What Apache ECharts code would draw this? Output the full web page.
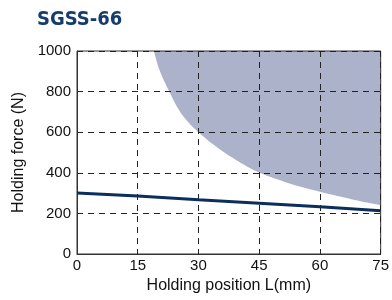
<!DOCTYPE html>
<html>
<head>
<meta charset="utf-8">
<script src="https://cdn.jsdelivr.net/npm/echarts@6/dist/echarts.min.js"></script>
<style>
  html, body { margin: 0; padding: 0; background: #fff; }
  #main { width: 392px; height: 300px; }
</style>
</head>
<body>
<div id="main"></div>
<script>
// holding force curve (L mm, N)
var forceL = [0, 15, 30, 45, 60, 75];
var forceN = [300, 286, 267, 250, 233, 213];
// allowable region boundary (shaded above)
var limitL = [19, 20.5, 22.8, 25, 27, 30, 35, 40, 45, 50, 55, 60, 65, 70, 75];
var limitN = [1000, 900, 800, 715, 660, 600, 520, 455, 402, 365, 332, 307, 283, 260, 241];

var chart = echarts.init(document.getElementById('main'));

function pairs(xs, ys) {
  var out = [];
  for (var i = 0; i < xs.length; i++) out.push([xs[i], ys[i]]);
  return out;
}

var option = {
  backgroundColor: '#ffffff',
  animation: false,
  title: {
    text: 'SGSS-66',
    left: 32,
    top: 5,
    textStyle: { fontFamily: 'DejaVu Sans Condensed', fontWeight: 'bold', fontSize: 20, color: '#143d6e' }
  },
  grid: { left: 77, top: 51, right: 9, bottom: 46, show: true, borderColor: '#333', borderWidth: 1 },
  xAxis: [{
    type: 'value',
    min: 0, max: 75, interval: 15,
    name: 'Holding position L(mm)',
    nameLocation: 'middle',
    nameGap: 22,
    nameTextStyle: { fontFamily: 'Liberation Sans', fontSize: 16, color: '#111' },
    axisLine: { show: true, lineStyle: { color: '#333', width: 1 } },
    axisTick: { show: false },
    axisLabel: { fontFamily: 'Liberation Sans', fontSize: 15, color: '#111', margin: 4 },
    splitLine: { show: true, lineStyle: { color: '#222', type: [6, 5], width: 1 } }
  }],
  yAxis: [{
    type: 'value',
    min: 0, max: 1000, interval: 200,
    name: 'Holding force (N)',
    nameLocation: 'middle',
    nameGap: 48,
    nameTextStyle: { fontFamily: 'Liberation Sans', fontSize: 16, color: '#111' },
    axisLine: { show: true, lineStyle: { color: '#333', width: 1 } },
    axisTick: { show: false },
    axisLabel: { fontFamily: 'Liberation Sans', fontSize: 15, color: '#111', margin: 6,
      formatter: function (v) { return String(v); } },
    splitLine: { show: true, lineStyle: { color: '#222', type: [6, 5], width: 1 } }
  }],
  series: [{
    type: 'line',
    z: -1,
    smooth: 0.4,
    symbol: 'none',
    data: pairs(limitL, limitN),
    lineStyle: { width: 0 },
    areaStyle: { origin: 'end', color: '#adb2cb', opacity: 1 }
  }, {
    type: 'line',
    symbol: 'none',
    data: pairs(forceL, forceN),
    lineStyle: { color: '#0b2e5c', width: 3 }
  }]
};
chart.setOption(option);
</script>
</body>
</html>
